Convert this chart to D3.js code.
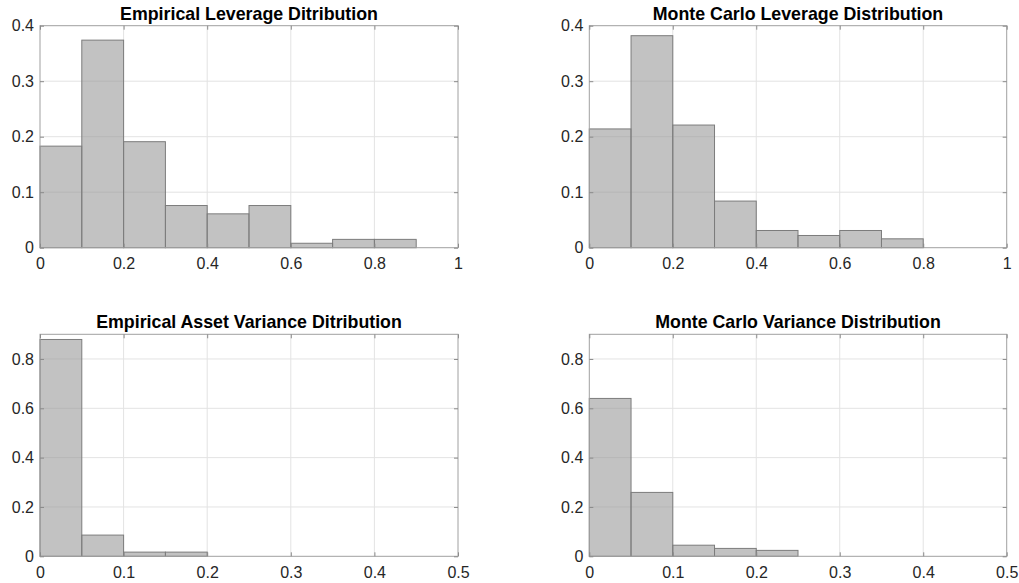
<!DOCTYPE html>
<html>
<head>
<meta charset="utf-8">
<script src="https://cdn.jsdelivr.net/npm/d3@7"></script>
<style>
  body { margin: 0; background: #fff; }
  text { font-family: "Liberation Sans", Arial, sans-serif; }
</style>
</head>
<body>
<svg id="chart" width="1019" height="583"></svg>
<script>
// bin edges and relative frequencies
const leverageEdges = [0, 0.1, 0.2, 0.3, 0.4, 0.5, 0.6, 0.7, 0.8, 0.9, 1.0];
const empLeverage = [0.183, 0.374, 0.191, 0.076, 0.061, 0.076, 0.008, 0.015, 0.015, 0];
const mcLeverage = [0.214, 0.382, 0.221, 0.084, 0.031, 0.022, 0.031, 0.016, 0, 0];

const varianceEdges = [0, 0.05, 0.1, 0.15, 0.2, 0.25];
const empVariance = [0.879, 0.086, 0.017, 0.017, 0];
const mcVariance = [0.640, 0.259, 0.045, 0.032, 0.024];

const leverageXTicks = [0, 0.2, 0.4, 0.6, 0.8, 1];
const leverageYTicks = [0, 0.1, 0.2, 0.3, 0.4];
const varianceXTicks = [0, 0.1, 0.2, 0.3, 0.4, 0.5];
const varianceYTicks = [0, 0.2, 0.4, 0.6, 0.8];

const panels = [
  { title: "Empirical Leverage Ditribution", edges: leverageEdges, vals: empLeverage, xDom: [0, 1], yDom: [0, 0.4], xt: leverageXTicks, yt: leverageYTicks, x0: 40, x1: 458, y0: 25.7, y1: 247.7 },
  { title: "Monte Carlo Leverage Distribution", edges: leverageEdges, vals: mcLeverage, xDom: [0, 1], yDom: [0, 0.4], xt: leverageXTicks, yt: leverageYTicks, x0: 589.3, x1: 1006.7, y0: 25.7, y1: 247.7 },
  { title: "Empirical Asset Variance Ditribution", edges: varianceEdges, vals: empVariance, xDom: [0, 0.5], yDom: [0, 0.9], xt: varianceXTicks, yt: varianceYTicks, x0: 40, x1: 458, y0: 334.3, y1: 556.3 },
  { title: "Monte Carlo Variance Distribution", edges: varianceEdges, vals: mcVariance, xDom: [0, 0.5], yDom: [0, 0.9], xt: varianceXTicks, yt: varianceYTicks, x0: 589.3, x1: 1006.7, y0: 334.3, y1: 556.3 }
];

const svg = d3.select("#chart");
const fmt = d => (d === 0 || d === 1) ? String(d) : String(+d.toFixed(1));

panels.forEach(p => {
  const W = p.x1 - p.x0, H = p.y1 - p.y0;
  const g = svg.append("g").attr("transform", `translate(${p.x0},${p.y0})`);
  const x = d3.scaleLinear().domain(p.xDom).range([0, W]);
  const y = d3.scaleLinear().domain(p.yDom).range([H, 0]);

  // grid
  g.append("g").selectAll("line.vg").data(p.xt.slice(1, -1)).join("line")
    .attr("x1", d => x(d)).attr("x2", d => x(d)).attr("y1", 0).attr("y2", H)
    .attr("stroke", "#e3e3e3").attr("stroke-width", 1);
  g.append("g").selectAll("line.hg").data(p.yt.filter(v => y(v) > 1 && y(v) < H - 1)).join("line")
    .attr("x1", 0).attr("x2", W).attr("y1", d => y(d)).attr("y2", d => y(d))
    .attr("stroke", "#e3e3e3").attr("stroke-width", 1);

  // bars
  const bins = p.vals.map((v, i) => ({ a: p.edges[i], b: p.edges[i + 1], v }));
  g.append("g").selectAll("rect").data(bins.filter(d => d.v > 0)).join("rect")
    .attr("x", d => x(d.a)).attr("width", d => x(d.b) - x(d.a))
    .attr("y", d => y(d.v)).attr("height", d => H - y(d.v))
    .attr("fill", "#999999").attr("fill-opacity", 0.6)
    .attr("stroke", "#7c7c7c").attr("stroke-width", 1);

  // box
  g.append("rect").attr("x", 0).attr("y", 0).attr("width", W).attr("height", H)
    .attr("fill", "none").attr("stroke", "#a0a0a0").attr("stroke-width", 1);

  // axes (inward ticks)
  const xa = g.append("g").attr("transform", `translate(0,${H})`)
    .call(d3.axisBottom(x).tickValues(p.xt).tickSize(-4).tickPadding(10).tickFormat(fmt));
  const ya = g.append("g")
    .call(d3.axisLeft(y).tickValues(p.yt).tickSize(-4).tickPadding(6).tickFormat(fmt));
  [xa, ya].forEach(a => {
    a.select(".domain").remove();
    a.selectAll(".tick line").attr("stroke", "#8a8a8a");
    a.selectAll(".tick text").attr("fill", "#262626").attr("font-size", 16)
      .style("font-family", "'Liberation Sans', Arial, sans-serif");
  });
  g.append("g").attr("transform", `translate(0,0)`)
    .call(d3.axisTop(x).tickValues(p.xt).tickSize(-4).tickFormat(""))
    .call(a => { a.select(".domain").remove(); a.selectAll(".tick line").attr("stroke", "#8a8a8a"); });
  g.append("g").attr("transform", `translate(${W},0)`)
    .call(d3.axisRight(y).tickValues(p.yt).tickSize(-4).tickFormat(""))
    .call(a => { a.select(".domain").remove(); a.selectAll(".tick line").attr("stroke", "#8a8a8a"); });

  g.append("text").attr("x", W / 2).attr("y", -6).attr("text-anchor", "middle")
    .attr("font-size", 17.8).attr("font-weight", "bold").attr("fill", "#000").text(p.title);
});
</script>
</body>
</html>
